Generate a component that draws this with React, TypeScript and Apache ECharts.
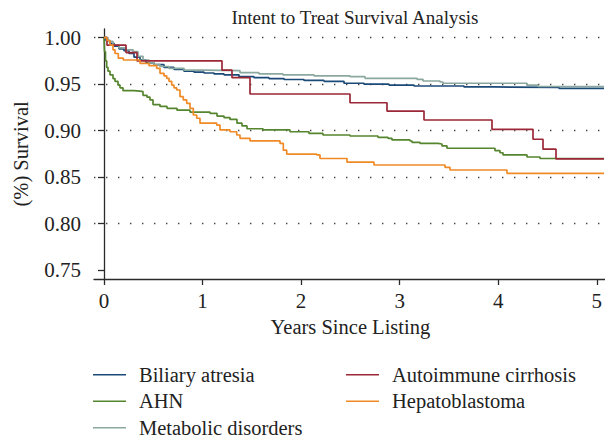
import React, { useEffect, useRef } from "react";
import * as echarts from "echarts";

const FONT = "'Liberation Serif', 'DejaVu Serif', serif";

const xTicks = [0, 1, 2, 3, 4, 5];
const yTicks = [0.75, 0.8, 0.85, 0.9, 0.95, 1.0];

const seriesNames = [
  "Biliary atresia",
  "AHN",
  "Metabolic disorders",
  "Autoimmune cirrhosis",
  "Hepatoblastoma",
];
const seriesColors = ["#1b4a78", "#55862f", "#8aa89f", "#9b2737", "#ef8a26"];

const biliaryAtresia: [number, number][] = [
  [0, 1], [0.02, 0.997], [0.06, 0.994], [0.1, 0.991], [0.15, 0.988], [0.2, 0.986],
  [0.25, 0.983], [0.3, 0.979], [0.36, 0.976], [0.42, 0.973], [0.5, 0.971], [0.6, 0.968],
  [0.7, 0.966], [0.8, 0.964], [0.9, 0.963], [1.0, 0.962], [1.1, 0.961], [1.2, 0.96],
  [1.35, 0.958], [1.5, 0.957], [1.65, 0.956], [1.8, 0.955], [2.0, 0.954], [2.2, 0.953],
  [2.4, 0.951], [2.6, 0.95], [2.85, 0.949], [3.1, 0.948], [3.6, 0.947], [3.9, 0.9465],
  [4.55, 0.9455], [5.0, 0.9455],
];

const ahn: [number, number][] = [
  [0, 1], [0.005, 0.985], [0.015, 0.975], [0.027, 0.968], [0.04, 0.964], [0.06, 0.96],
  [0.09, 0.956], [0.11, 0.953], [0.14, 0.949], [0.16, 0.946], [0.19, 0.943], [0.3, 0.9425],
  [0.36, 0.942], [0.39, 0.938], [0.43, 0.936], [0.46, 0.933], [0.49, 0.928], [0.56, 0.926],
  [0.63, 0.924], [0.73, 0.922], [0.86, 0.92], [1.06, 0.9186], [1.13, 0.9157], [1.2, 0.914],
  [1.26, 0.912], [1.33, 0.908], [1.38, 0.905], [1.43, 0.902], [1.59, 0.9007], [1.86, 0.8988],
  [2.05, 0.897], [2.19, 0.8953], [2.46, 0.8942], [2.74, 0.8928], [2.84, 0.8917], [2.88, 0.89],
  [3.06, 0.8888], [3.08, 0.8874], [3.16, 0.8863], [3.34, 0.8856], [3.38, 0.8835], [3.43, 0.881],
  [3.91, 0.8784], [3.96, 0.8762], [3.99, 0.8738], [4.23, 0.8716], [4.36, 0.87], [5.0, 0.87],
];

const metabolicDisorders: [number, number][] = [
  [0, 1], [0.04, 0.996], [0.09, 0.992], [0.15, 0.989], [0.22, 0.987], [0.29, 0.985],
  [0.34, 0.98], [0.39, 0.976], [0.45, 0.973], [0.5, 0.971], [0.56, 0.969], [0.65, 0.967],
  [0.8, 0.965], [1.0, 0.9645], [1.36, 0.9624], [1.55, 0.961], [1.79, 0.96], [2.1, 0.959],
  [2.46, 0.958], [2.61, 0.9563], [3.13, 0.9552], [3.19, 0.9534], [3.36, 0.9523], [3.39, 0.951],
  [4.23, 0.949], [4.34, 0.9475], [5.0, 0.9475],
];

const autoimmuneCirrhosis: [number, number][] = [
  [0, 1], [0.03, 0.992], [0.22, 0.984], [0.33, 0.975], [1.18, 0.965], [1.28, 0.957],
  [1.46, 0.9394], [2.46, 0.93], [2.83, 0.921], [3.2, 0.9114], [3.88, 0.9014], [4.29, 0.8907],
  [4.39, 0.88], [4.52, 0.8695], [5.0, 0.8695],
];

const hepatoblastoma: [number, number][] = [
  [0, 1], [0.03, 0.997], [0.06, 0.992], [0.09, 0.987], [0.11, 0.983], [0.143, 0.978],
  [0.193, 0.976], [0.36, 0.9724], [0.45, 0.97], [0.527, 0.967], [0.56, 0.9617], [0.6, 0.959],
  [0.627, 0.9563], [0.65, 0.953], [0.677, 0.949], [0.7, 0.946], [0.727, 0.9437], [0.76, 0.9365],
  [0.793, 0.933], [0.827, 0.9294], [0.86, 0.924], [0.893, 0.9168], [0.927, 0.9133], [0.96, 0.908],
  [1.127, 0.906], [1.16, 0.9007], [1.26, 0.8988], [1.327, 0.8953], [1.36, 0.8917], [1.46, 0.889],
  [1.76, 0.8863], [1.793, 0.879], [1.827, 0.8748], [2.127, 0.8738], [2.16, 0.87], [2.43, 0.866],
  [2.7, 0.863], [3.41, 0.8605], [3.46, 0.8576], [4.03, 0.854], [5.0, 0.854],
];

const seriesData = [biliaryAtresia, ahn, metabolicDisorders, autoimmuneCirrhosis, hepatoblastoma];

export default function App() {
  const ref = useRef<HTMLDivElement>(null);
  useEffect(() => {
    if (!ref.current) return;
    const chart = echarts.init(ref.current, undefined, { renderer: "svg" });
    const axisColor = "#2b2b2b";
    const textColor = "#222";
    const legendCommon = {
      orient: "vertical" as const,
      top: 361.5,
      height: 120,
      itemWidth: 33,
      itemHeight: 1.6,
      itemGap: 0,
      icon: "rect",
      padding: 0,
      selectedMode: false,
      textStyle: {
        fontFamily: FONT,
        fontSize: 20.5,
        color: textColor,
        lineHeight: 26.5,
        padding: [0, 0, 0, 8],
      },
    };
    chart.setOption({
      animation: false,
      backgroundColor: "#ffffff",
      title: {
        text: "Intent to Treat Survival Analysis",
        left: 350,
        top: 3,
        textAlign: "center",
        textStyle: { fontFamily: FONT, fontSize: 19, fontWeight: "normal", color: textColor },
      },
      legend: [
        { ...legendCommon, left: 93, data: seriesNames.slice(0, 3) },
        { ...legendCommon, left: 346, data: seriesNames.slice(3) },
      ],
      grid: [
        { left: 94, right: 0, top: 29, height: 250 },
        { left: 104, width: 500, top: 37.7, height: 232.3 },
        { left: 94, right: 0, top: 37.7, height: 185.6 },
      ],
      xAxis: [
        {
          type: "value", gridIndex: 0, min: -0.1, max: 5.01,
          axisLine: { show: true, lineStyle: { color: axisColor, width: 1.3 } },
          axisTick: { show: false }, axisLabel: { show: false }, splitLine: { show: false },
        },
        {
          type: "value", gridIndex: 1, min: xTicks[0], max: xTicks[xTicks.length - 1], interval: 1,
          offset: 9,
          axisLine: { show: false },
          axisTick: { show: true, length: 6, lineStyle: { color: axisColor, width: 1.3 } },
          axisLabel: { show: true, margin: 11, fontFamily: FONT, fontSize: 21, color: textColor },
          splitLine: { show: false },
          name: "Years Since Listing",
          nameLocation: "middle",
          nameGap: 37,
          nameTextStyle: { fontFamily: FONT, fontSize: 20.5, color: textColor },
        },
        { type: "value", gridIndex: 2, min: 0, max: 1, show: false },
      ],
      yAxis: [
        {
          type: "value", gridIndex: 0, min: 0.74031, max: 1.00936,
          axisLine: { show: true, lineStyle: { color: axisColor, width: 1.3 } },
          axisTick: { show: false }, axisLabel: { show: false }, splitLine: { show: false },
        },
        {
          type: "value", gridIndex: 1, min: yTicks[0], max: yTicks[yTicks.length - 1], interval: 0.05,
          offset: 10,
          axisLine: { show: false },
          axisTick: { show: true, length: 6, lineStyle: { color: axisColor, width: 1.3 } },
          axisLabel: {
            show: true, margin: 13, fontFamily: FONT, fontSize: 21, color: textColor,
            formatter: (v: number) => v.toFixed(2),
          },
          splitLine: { show: false },
          name: "(%) Survival",
          nameLocation: "middle",
          nameGap: 63,
          nameRotate: 90,
          nameTextStyle: { fontFamily: FONT, fontSize: 20.5, color: textColor },
        },
        {
          type: "value", gridIndex: 2, min: 0.8, max: 1.0, interval: 0.05,
          axisLine: { show: false }, axisTick: { show: false }, axisLabel: { show: false },
          splitLine: { show: true, lineStyle: { color: "#444", width: 1.4, type: [1.4, 10.6] } },
        },
      ],
      series: seriesNames.map((name, i) => ({
        name,
        type: "line",
        xAxisIndex: 0,
        yAxisIndex: 0,
        step: "end",
        symbol: "none",
        showSymbol: false,
        color: seriesColors[i],
        lineStyle: { color: seriesColors[i], width: 1.7 },
        data: seriesData[i],
        z: 3,
      })),
    });
    return () => chart.dispose();
  }, []);
  return (
    <div
      ref={ref}
      style={{ position: "fixed", left: 0, top: 0, width: 605, height: 439, background: "#fff" }}
    />
  );
}
